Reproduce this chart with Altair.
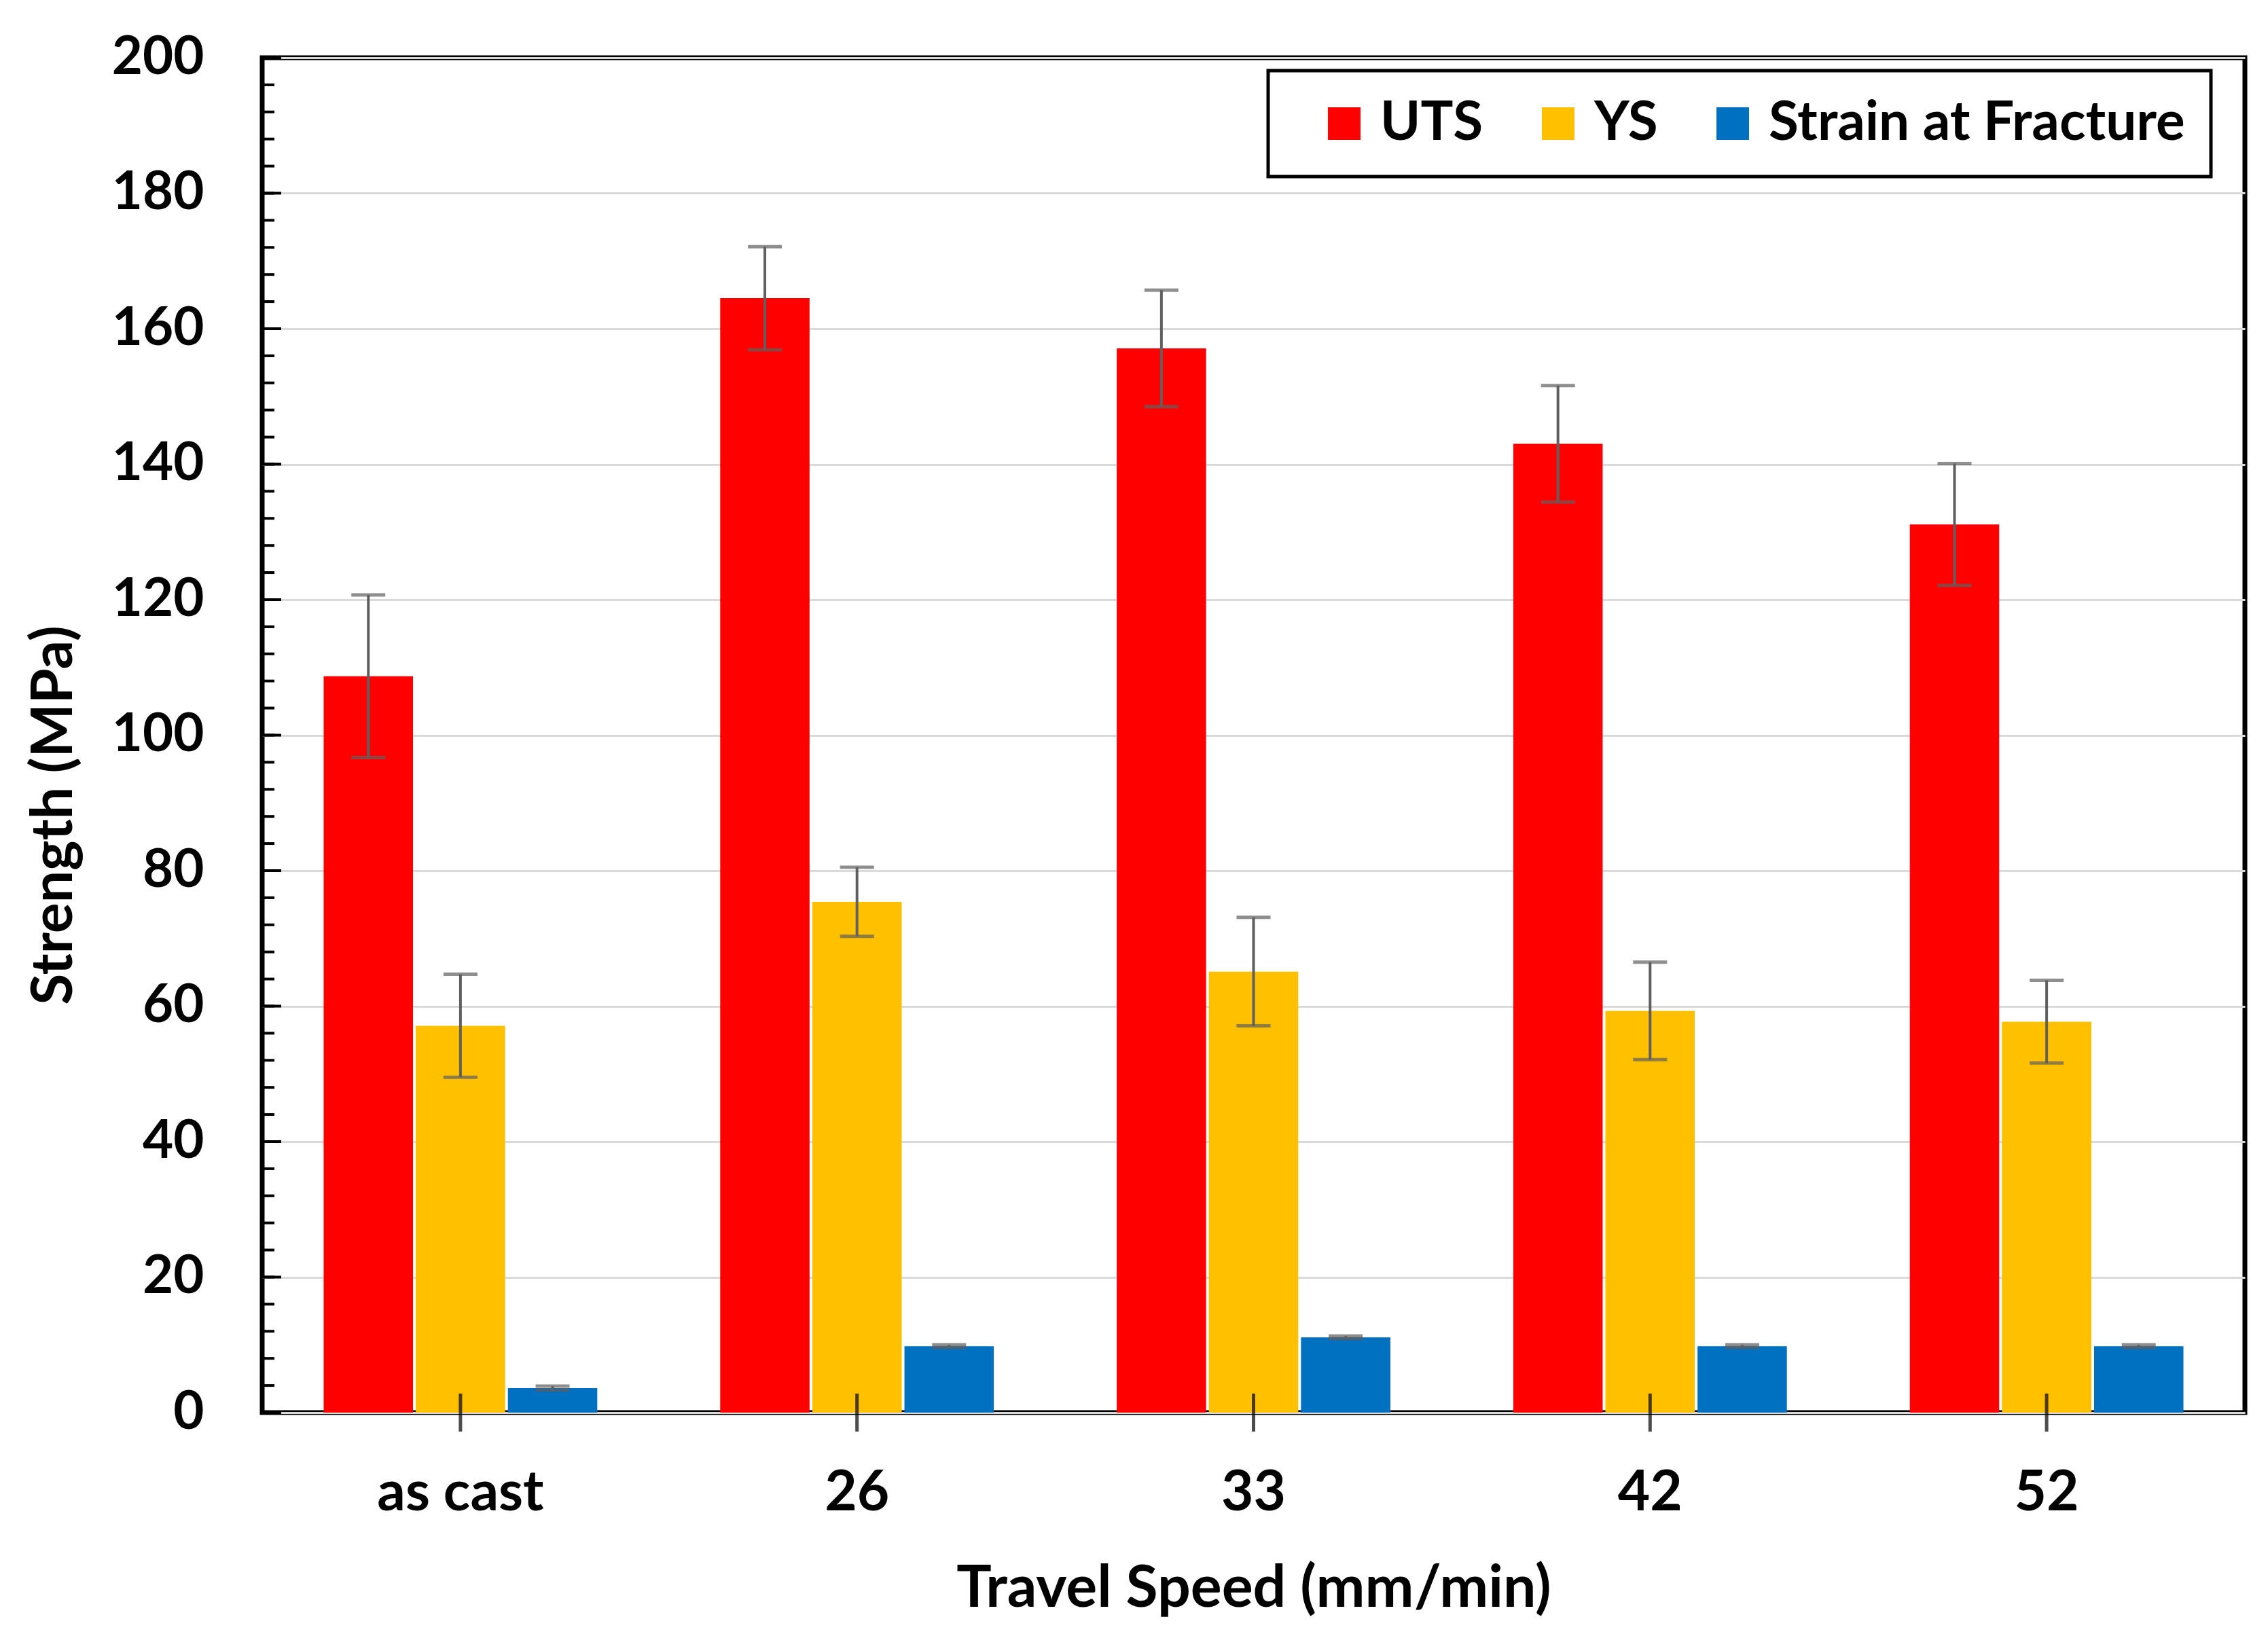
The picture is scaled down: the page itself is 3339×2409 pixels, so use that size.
import altair as alt
import pandas as pd

categories = ["as cast", "26", "33", "42", "52"]
series = ["UTS", "YS", "Strain at Fracture"]
colors = ["#FF0000", "#FFC000", "#0070C0"]

uts = [108.7, 164.5, 157.1, 143.0, 131.1]
uts_err = [12.0, 7.6, 8.6, 8.6, 9.0]
ys = [57.1, 75.4, 65.1, 59.3, 57.7]
ys_err = [7.6, 5.1, 8.0, 7.2, 6.1]
strain = [3.6, 9.8, 11.1, 9.8, 9.8]
strain_err = [0.3, 0.2, 0.2, 0.2, 0.2]

y_minor_ticks = list(range(0, 201, 4))
y_major_ticks = list(range(0, 201, 20))

rows = []
for s, vals, errs in [("UTS", uts, uts_err), ("YS", ys, ys_err), ("Strain at Fracture", strain, strain_err)]:
    for c, v, e in zip(categories, vals, errs):
        rows.append({"cat": c, "series": s, "value": v, "lo": v - e, "hi": v + e})
df = pd.DataFrame(rows)

FONT = "Lato"
W, H = 2919, 1995

x_enc = alt.X("cat:N", sort=categories,
              scale=alt.Scale(paddingInner=0.31, paddingOuter=0.155),
              axis=alt.Axis(title="Travel Speed (mm/min)", labelAngle=0, ticks=False,
                            domain=False, labelPadding=78, titlePadding=58,
                            labelFont=FONT, titleFont=FONT,
                            labelFontWeight="bold", titleFontWeight="bold",
                            labelColor="black", titleColor="black", labelLimit=0,
                            labelFontSize=82, titleFontSize=86))
xoff = alt.XOffset("series:N", sort=series, scale=alt.Scale(paddingInner=0.03))
y_scale = alt.Scale(domain=[0, 200], nice=False)

base = alt.Chart(df)

bars = base.mark_bar().encode(
    x=x_enc,
    xOffset=xoff,
    y=alt.Y("value:Q", scale=y_scale,
            axis=alt.Axis(title="Strength (MPa)", values=y_major_ticks, ticks=False, domain=False,
                          grid=True, gridColor="#d9d9d9", gridWidth=3,
                          labelPadding=86, titlePadding=63, titleY=1115,
                          labelFont=FONT, titleFont=FONT,
                          labelFontWeight="bold", titleFontWeight="bold",
                          labelColor="black", titleColor="black",
                          labelFontSize=78, titleFontSize=84)),
    color=alt.Color("series:N", sort=series,
                    scale=alt.Scale(domain=series, range=colors),
                    legend=alt.Legend(title=None, orient="none", legendX=1481, legendY=19,
                                      direction="horizontal", symbolType="square",
                                      symbolSize=2300, symbolStrokeWidth=0,
                                      labelFontSize=80, labelFontWeight="bold", labelFont=FONT,
                                      labelColor="black", columnPadding=36, labelOffset=13,
                                      labelLimit=0, symbolOffset=34,
                                      strokeColor="black", fillColor="white",
                                      padding=38)),
)

err_rules = base.mark_rule(color="#606060", strokeWidth=4).encode(
    x=alt.X("cat:N", sort=categories), xOffset=xoff,
    y=alt.Y("lo:Q", scale=y_scale), y2="hi:Q")
err_lo = base.mark_tick(color="#606060", thickness=5, size=50, orient="horizontal").encode(
    x=alt.X("cat:N", sort=categories), xOffset=xoff, y=alt.Y("lo:Q", scale=y_scale))
err_hi = base.mark_tick(color="#606060", thickness=5, size=50, orient="horizontal").encode(
    x=alt.X("cat:N", sort=categories), xOffset=xoff, y=alt.Y("hi:Q", scale=y_scale))

minor_df = pd.DataFrame({"t": y_minor_ticks})
major_df = pd.DataFrame({"t": y_major_ticks})
minor = alt.Chart(minor_df).mark_rule(color="black", strokeWidth=4).encode(
    y=alt.Y("t:Q", scale=y_scale), x=alt.value(0), x2=alt.value(18))
major = alt.Chart(major_df).mark_rule(color="black", strokeWidth=4).encode(
    y=alt.Y("t:Q", scale=y_scale), x=alt.value(0), x2=alt.value(28))

xt_df = pd.DataFrame({"cat": categories})
xticks = alt.Chart(xt_df).mark_tick(color="black", thickness=5, size=56, orient="vertical").encode(
    x=alt.X("cat:N", sort=categories), y=alt.datum(0, scale=y_scale))

chart = alt.layer(bars, err_rules, err_lo, err_hi, minor, major, xticks).properties(
    width=W, height=H,
    autosize=alt.AutoSizeParams(type="none"),
    padding={"left": 378, "top": 77, "right": 26, "bottom": 321},
    background="white",
).configure_view(
    stroke="black", strokeWidth=7
).configure_legend(
    strokeWidth=5
)

chart.save("out.html", embed_options={"renderer": "svg", "actions": False})
